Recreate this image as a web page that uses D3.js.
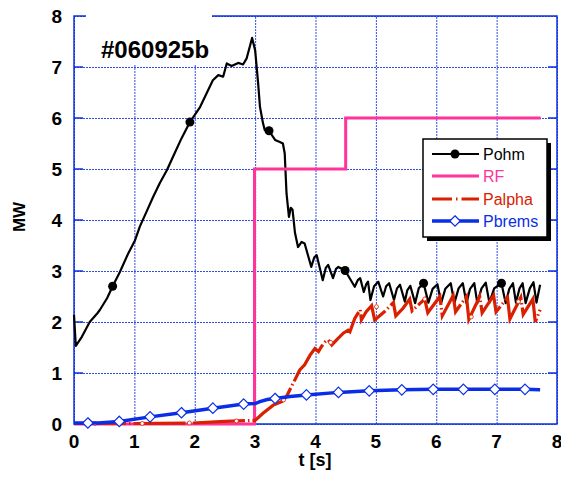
<!DOCTYPE html>
<html>
<head>
<meta charset="utf-8">
<script src="https://cdn.jsdelivr.net/npm/d3@7"></script>
<style>
  body { margin: 0; background: #fff; }
  svg { font-family: "Liberation Sans", Arial, Helvetica, sans-serif; }
</style>
</head>
<body>
<div id="chart"></div>
<script>
var w = 561, h = 481;

// data (t in s, power in MW)
var xTicks = [0, 1, 2, 3, 4, 5, 6, 7, 8];
var yTicks = [0, 1, 2, 3, 4, 5, 6, 7, 8];
var seriesNames = ['Pohm', 'RF', 'Palpha', 'Pbrems'];
var seriesColors = ['#000000', '#ff3399', '#d92000', '#0a2de6'];

var pohm = [[0,2.14],[0.03,1.53],[0.13,1.71],[0.26,2.0],[0.38,2.16],[0.43,2.24],[0.55,2.47],[0.64,2.7],
  [0.76,2.98],[0.9,3.35],[1.01,3.6],[1.09,3.87],[1.2,4.16],[1.31,4.45],[1.42,4.72],[1.54,4.98],[1.64,5.24],
  [1.78,5.6],[1.92,5.92],[2.09,6.22],[2.3,6.74],[2.39,6.84],[2.47,6.81],[2.53,7.07],[2.61,7.02],[2.72,7.08],
  [2.8,7.05],[2.86,7.17],[2.95,7.57],[3.0,7.33],[3.05,6.68],[3.08,6.22],[3.13,5.9],[3.16,5.76],[3.23,5.75],
  [3.33,5.57],[3.41,5.53],[3.46,5.5],[3.49,5.31],[3.52,4.52],[3.56,4.06],[3.59,4.24],[3.62,4.2],[3.66,3.75],
  [3.71,3.47],[3.77,3.57],[3.82,3.54],[3.93,3.08],[3.98,3.27],[4.02,3.31],[4.12,2.82],[4.17,3.06],[4.21,3.12],
  [4.29,2.86],[4.34,3.04],[4.38,3.08],[4.49,3.01],[4.65,2.69],[4.7,2.82],[4.74,2.86],[4.8,2.59],[4.84,2.74],
  [4.87,2.79],[4.91,2.43],[4.97,2.7],[5.04,2.79],[5.12,2.5],[5.17,2.7],[5.22,2.76],[5.3,2.43],[5.35,2.66],
  [5.4,2.73],[5.48,2.4],[5.52,2.62],[5.57,2.71],[5.65,2.37],[5.71,2.66],[5.79,2.76],[5.87,2.38],[5.94,2.65],
  [6.02,2.74],[6.08,2.37],[6.15,2.65],[6.24,2.76],[6.3,2.37],[6.37,2.66],[6.44,2.76],[6.5,2.37],[6.56,2.65],
  [6.63,2.76],[6.68,2.37],[6.75,2.66],[6.82,2.77],[6.88,2.38],[6.96,2.66],[7.08,2.76],[7.15,2.37],[7.21,2.65],
  [7.27,2.76],[7.32,2.38],[7.38,2.66],[7.43,2.76],[7.48,2.37],[7.55,2.66],[7.61,2.78],[7.66,2.38],[7.72,2.73]];
var pohmMarks = [[0.64,2.7],[1.92,5.92],[3.23,5.75],[4.49,3.01],[5.79,2.76],[7.08,2.76]];

var rf = [[0,0],[2.99,0],[2.99,5],[4.5,5],[4.5,6],[7.73,6]];

var palpha = [[0,0.01],[1.0,0.01],[1.97,0.02],[2.5,0.05],[2.93,0.07],[3.0,0.07],[3.13,0.21],[3.3,0.37],
  [3.44,0.44],[3.52,0.54],[3.63,0.8],[3.74,1.06],[3.82,1.16],[3.91,1.35],[3.99,1.48],[4.05,1.42],[4.1,1.52],
  [4.16,1.61],[4.21,1.65],[4.27,1.55],[4.35,1.65],[4.46,1.78],[4.54,1.84],[4.57,1.81],[4.65,2.07],[4.74,2.24],
  [4.76,2.04],[4.84,2.2],[4.93,2.32],[4.98,2.04],[5.14,2.2],[5.29,2.38],[5.33,2.12],[5.45,2.27],[5.56,2.45],
  [5.6,2.22],[5.7,2.33],[5.81,2.45],[5.86,2.18],[6.06,2.5],[6.1,2.12],[6.28,2.52],[6.32,2.2],[6.5,2.5],
  [6.54,2.05],[6.72,2.5],[6.76,2.18],[6.95,2.52],[6.99,2.2],[7.18,2.48],[7.22,2.06],[7.4,2.48],[7.44,2.15],
  [7.6,2.45],[7.64,2.0],[7.72,2.24]];
var palphaMarks = [[0.35,0.01],[1.13,0.01],[1.91,0.02],[2.69,0.06],[3.47,0.47],[4.25,1.6],[5.01,2.3],
  [5.81,2.45],[6.58,2.1],[7.36,2.4]];

var pbrems = [[0,0.02],[0.4,0.02],[0.75,0.05],[1.26,0.14],[1.78,0.22],[2.3,0.31],[2.81,0.39],[3.0,0.4],
  [3.08,0.44],[3.2,0.48],[3.33,0.5],[3.58,0.54],[3.85,0.57],[4.38,0.62],[4.89,0.65],[5.43,0.67],[5.95,0.68],
  [6.45,0.68],[6.97,0.68],[7.47,0.68],[7.72,0.67]];
var pbremsMarks = [[0.23,0.02],[0.75,0.05],[1.26,0.14],[1.78,0.22],[2.3,0.31],[2.81,0.39],[3.33,0.5],
  [3.85,0.57],[4.38,0.62],[4.89,0.65],[5.43,0.67],[5.95,0.68],[6.45,0.68],[6.97,0.68],[7.47,0.68]];

// plot box (note: "top" is taken by window.top, so use pl/pr/pt/pb)
var pl = 74, pr = 557, pt = 16, pb = 424;
var gridBlue = '#2f4fe0';
var axisBlue = '#1030e0';

var x = d3.scaleLinear().domain([0, 8]).range([pl, pr]);
var y = d3.scaleLinear().domain([0, 8]).range([pb, pt]);

var svg = d3.select('#chart').append('svg')
  .attr('width', w)
  .attr('height', h);

// grid lines
svg.append('g')
  .attr('transform', 'translate(0,' + pb + ')')
  .call(d3.axisBottom(x).tickValues(xTicks).tickSize(-(pb - pt)).tickFormat(''))
  .call(function(g) {
    g.select('.domain').remove();
    g.selectAll('line').attr('stroke', gridBlue).attr('stroke-width', 1).attr('stroke-dasharray', '2,1');
  });
svg.append('g')
  .attr('transform', 'translate(' + pl + ',0)')
  .call(d3.axisLeft(y).tickValues(yTicks).tickSize(-(pr - pl)).tickFormat(''))
  .call(function(g) {
    g.select('.domain').remove();
    g.selectAll('line').attr('stroke', gridBlue).attr('stroke-width', 1).attr('stroke-dasharray', '2,1');
  });

// white patch behind the shot number
svg.append('rect')
  .attr('x', 86).attr('y', 8)
  .attr('width', 126).attr('height', 57)
  .attr('fill', '#fff');

// frame
svg.append('path')
  .attr('d', 'M86,' + pt + 'H' + pl + 'V' + pb + 'H' + pr + 'V' + pt + 'H212')
  .attr('fill', 'none')
  .attr('stroke', axisBlue)
  .attr('stroke-width', 1.5);

// inward ticks on left and right
svg.append('g').selectAll('line')
  .data(yTicks.slice(1, 8))
  .enter().append('line')
  .attr('x1', pl).attr('x2', pl + 9)
  .attr('y1', function(d) { return y(d); })
  .attr('y2', function(d) { return y(d); })
  .attr('stroke', axisBlue).attr('stroke-width', 1.5);
svg.append('g').selectAll('line')
  .data(yTicks.slice(1, 8))
  .enter().append('line')
  .attr('x1', pr - 9).attr('x2', pr)
  .attr('y1', function(d) { return y(d); })
  .attr('y2', function(d) { return y(d); })
  .attr('stroke', axisBlue).attr('stroke-width', 1.5);

// tick labels
svg.append('g').selectAll('text')
  .data(xTicks)
  .enter().append('text')
  .attr('x', function(d) { return x(d); })
  .attr('y', 448)
  .attr('text-anchor', 'middle')
  .attr('font-size', 19).attr('font-weight', 'bold')
  .text(function(d) { return d; });
svg.append('g').selectAll('text')
  .data(yTicks)
  .enter().append('text')
  .attr('x', 62)
  .attr('y', function(d) { return y(d) + 7; })
  .attr('text-anchor', 'end')
  .attr('font-size', 19).attr('font-weight', 'bold')
  .text(function(d) { return d; });

svg.append('text')
  .attr('x', 315).attr('y', 466)
  .attr('text-anchor', 'middle')
  .attr('font-size', 18).attr('font-weight', 'bold')
  .text('t [s]');
svg.append('text')
  .attr('transform', 'translate(25,217) rotate(-90)')
  .attr('text-anchor', 'middle')
  .attr('font-size', 17).attr('font-weight', 'bold')
  .text('MW');

svg.append('text')
  .attr('x', 101).attr('y', 58)
  .attr('font-size', 24).attr('font-weight', 'bold')
  .text('#060925b');

var line = d3.line()
  .x(function(d) { return x(d[0]); })
  .y(function(d) { return y(d[1]); });

// curves, in the plot's drawing order
svg.append('path').datum(pohm)
  .attr('d', line).attr('fill', 'none')
  .attr('stroke', seriesColors[0]).attr('stroke-width', 2.2).attr('stroke-linejoin', 'round');
svg.append('g').selectAll('circle')
  .data(pohmMarks)
  .enter().append('circle')
  .attr('cx', function(d) { return x(d[0]); })
  .attr('cy', function(d) { return y(d[1]); })
  .attr('r', 4.5)
  .attr('fill', seriesColors[0]);

svg.append('path').datum(rf)
  .attr('d', line).attr('fill', 'none')
  .attr('stroke', seriesColors[1]).attr('stroke-width', 3);

svg.append('path').datum(palpha)
  .attr('d', line).attr('fill', 'none')
  .attr('stroke', seriesColors[2]).attr('stroke-width', 3.2)
  .attr('stroke-dasharray', '52,3,1.5,3');
svg.append('g').selectAll('circle')
  .data(palphaMarks)
  .enter().append('circle')
  .attr('cx', function(d) { return x(d[0]); })
  .attr('cy', function(d) { return y(d[1]); })
  .attr('r', 2)
  .attr('fill', '#fff')
  .attr('stroke', seriesColors[2]).attr('stroke-width', 0.8);

svg.append('path').datum(pbrems)
  .attr('d', line).attr('fill', 'none')
  .attr('stroke', seriesColors[3]).attr('stroke-width', 3.5);
svg.append('g').selectAll('path')
  .data(pbremsMarks)
  .enter().append('path')
  .attr('d', d3.symbol().type(d3.symbolDiamond2).size(70))
  .attr('transform', function(d) { return 'translate(' + x(d[0]) + ',' + y(d[1]) + ')'; })
  .attr('fill', '#fff')
  .attr('stroke', seriesColors[3]).attr('stroke-width', 1.2);

// legend
var legend = svg.append('g');
legend.append('rect')
  .attr('x', 427).attr('y', 143).attr('width', 124).attr('height', 98)
  .attr('fill', '#000');
legend.append('rect')
  .attr('x', 423).attr('y', 139).attr('width', 124).attr('height', 98)
  .attr('fill', '#fff').attr('stroke', '#000').attr('stroke-width', 1.5);

var legendY = [154, 176, 199, 221];
var legendWidths = [2.2, 3, 3.2, 3.5];
var legendDash = [null, null, '20,4,1.5,4', null];
seriesNames.forEach(function(name, i) {
  legend.append('line')
    .attr('x1', 432).attr('x2', 479)
    .attr('y1', legendY[i]).attr('y2', legendY[i])
    .attr('stroke', seriesColors[i]).attr('stroke-width', legendWidths[i])
    .attr('stroke-dasharray', legendDash[i]);
  legend.append('text')
    .attr('x', 483).attr('y', legendY[i] + 6)
    .attr('font-size', 16)
    .attr('fill', seriesColors[i])
    .text(name);
});
legend.append('circle')
  .attr('cx', 455).attr('cy', legendY[0]).attr('r', 4.5).attr('fill', seriesColors[0]);
legend.append('path')
  .attr('d', d3.symbol().type(d3.symbolDiamond2).size(70))
  .attr('transform', 'translate(455,' + legendY[3] + ')')
  .attr('fill', '#fff')
  .attr('stroke', seriesColors[3]).attr('stroke-width', 1.2);
</script>
</body>
</html>
